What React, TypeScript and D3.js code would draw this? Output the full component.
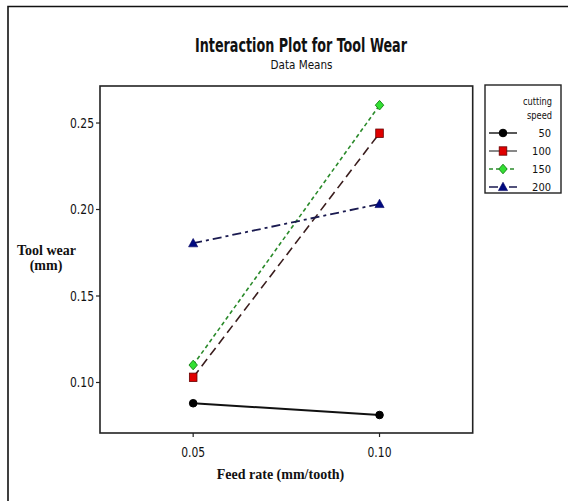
import React from "react";
import * as d3 from "d3";

const feedRates = [0.05, 0.1];
const xTicks = [0.05, 0.1];
const yTicks = [0.1, 0.15, 0.2, 0.25];
const speeds = ["50", "100", "150", "200"];
const wear50 = [0.088, 0.0812];
const wear100 = [0.103, 0.2441];
const wear150 = [0.1101, 0.2603];
const wear200 = [0.1805, 0.2032];

const seriesValues = [wear50, wear100, wear150, wear200];
const styles = [
  { line: "#111", dash: "", width: 2, marker: "circle", fill: "#000", stroke: "#000" },
  { line: "#3a1d1d", dash: "9,5", width: 1.6, marker: "square", fill: "#e00000", stroke: "#600" },
  { line: "#2a8a2a", dash: "4,3", width: 1.6, marker: "diamond", fill: "#33e033", stroke: "#1a8a1a" },
  { line: "#1a1a50", dash: "9,4,3,4", width: 1.8, marker: "triangle", fill: "#000a80", stroke: "#000060" },
];

const narrow = "'Liberation Sans Narrow', 'DejaVu Sans Condensed', 'Liberation Sans', sans-serif";
const serif = "'Liberation Serif', 'DejaVu Serif', serif";

function Marker({ kind, x, y, fill, stroke }: any) {
  if (kind === "circle") return <circle cx={x} cy={y} r={3.8} fill={fill} stroke={stroke} />;
  if (kind === "square") return <rect x={x - 3.8} y={y - 4.2} width={7.6} height={8.4} fill={fill} stroke={stroke} strokeWidth={0.8} />;
  if (kind === "diamond")
    return <path d={`M${x},${y - 4.8}L${x + 4.2},${y}L${x},${y + 4.8}L${x - 4.2},${y}Z`} fill={fill} stroke={stroke} strokeWidth={1} />;
  return <path d={`M${x},${y - 4.8}L${x + 4.6},${y + 3.6}L${x - 4.6},${y + 3.6}Z`} fill={fill} stroke={stroke} strokeWidth={0.6} />;
}

export default function App() {
  const W = 568, H = 501;
  const left = 100, right = 472.7, top = 86, bottom = 433;
  const x = d3.scaleLinear().domain([0.025, 0.125]).range([left, right]);
  const y = d3.scaleLinear().domain([0.0708, 0.2714]).range([bottom, top]);
  const line = d3.line<number>().x((_, i) => x(feedRates[i])).y((d) => y(d));

  const legX = 485, legY = 85, legW = 76, legH = 108;
  const legRowY = (i: number) => 133 + i * 18;

  return (
    <svg width={W} height={H} style={{ position: "absolute", left: 0, top: 0, background: "#fff" }}>
      <rect x={0} y={0} width={W} height={H} fill="#fff" />
      {/* outer frame */}
      <path d={`M8,${H + 5}V6.5H${W + 5}`} fill="none" stroke="#111" strokeWidth={1.6} />

      {/* titles */}
      <text x={301} y={51.5} textAnchor="middle" fontFamily={narrow} fontWeight="bold" fontSize={19} textLength={212} lengthAdjust="spacingAndGlyphs" fill="#111">
        Interaction Plot for Tool Wear
      </text>
      <text x={301.5} y={68.5} textAnchor="middle" fontFamily={narrow} fontSize={13} textLength={62} lengthAdjust="spacingAndGlyphs" fill="#111">
        Data Means
      </text>

      {/* plot frame */}
      <rect x={left} y={top} width={right - left} height={bottom - top} fill="none" stroke="#222" strokeWidth={1.6} />

      {/* y ticks */}
      {yTicks.map((t) => (
        <g key={t}>
          <line x1={left - 4} x2={left} y1={y(t)} y2={y(t)} stroke="#222" strokeWidth={1.2} />
          <text x={left - 6} y={y(t)} dy="0.35em" textAnchor="end" fontFamily={narrow} fontSize={14} textLength={24} lengthAdjust="spacingAndGlyphs" fill="#111">
            {d3.format(".2f")(t)}
          </text>
        </g>
      ))}
      {/* x ticks */}
      {xTicks.map((t) => (
        <g key={t}>
          <line x1={x(t)} x2={x(t)} y1={bottom} y2={bottom + 4} stroke="#222" strokeWidth={1.2} />
          <text x={x(t) - 12} y={bottom + 19} dy="0.35em" fontFamily={narrow} fontSize={14} textLength={24} lengthAdjust="spacingAndGlyphs" fill="#111">
            {d3.format(".2f")(t)}
          </text>
        </g>
      ))}

      {/* axis titles */}
      <text x={46.5} y={255} textAnchor="middle" fontFamily={serif} fontWeight="bold" fontSize={14} fill="#111">
        Tool wear
      </text>
      <text x={46} y={270} textAnchor="middle" fontFamily={serif} fontWeight="bold" fontSize={14} fill="#111">
        (mm)
      </text>
      <text x={280.5} y={478.5} textAnchor="middle" fontFamily={serif} fontWeight="bold" fontSize={14} fill="#111">
        Feed rate (mm/tooth)
      </text>

      {/* series */}
      {seriesValues.map((vals, si) => (
        <g key={si}>
          <path d={line(vals) || ""} fill="none" stroke={styles[si].line} strokeWidth={styles[si].width} strokeDasharray={styles[si].dash} />
          {vals.map((v, i) => (
            <Marker key={i} kind={styles[si].marker} x={x(feedRates[i])} y={y(v)} fill={styles[si].fill} stroke={styles[si].stroke} />
          ))}
        </g>
      ))}

      {/* legend */}
      <rect x={legX} y={legY} width={legW} height={legH} fill="#fff" stroke="#222" strokeWidth={1.4} />
      <text x={552} y={101.5} dy="0.35em" textAnchor="end" fontFamily={narrow} fontSize={11} textLength={29} lengthAdjust="spacingAndGlyphs" fill="#111">cutting</text>
      <text x={552} y={115} dy="0.35em" textAnchor="end" fontFamily={narrow} fontSize={11} textLength={25} lengthAdjust="spacingAndGlyphs" fill="#111">speed</text>
      {speeds.map((s, i) => (
        <g key={s}>
          <line x1={489} x2={517} y1={legRowY(i)} y2={legRowY(i)} stroke={i === 1 ? "#555" : styles[i].line} strokeWidth={1.4} strokeDasharray={i === 2 ? "4,3" : i === 3 ? "9,4,3,4" : ""} />
          <Marker kind={styles[i].marker} x={503} y={legRowY(i)} fill={styles[i].fill} stroke={styles[i].stroke} />
          <text x={551} y={legRowY(i)} dy="0.35em" textAnchor="end" fontFamily={narrow} fontSize={11} fill="#111">{s}</text>
        </g>
      ))}
    </svg>
  );
}
